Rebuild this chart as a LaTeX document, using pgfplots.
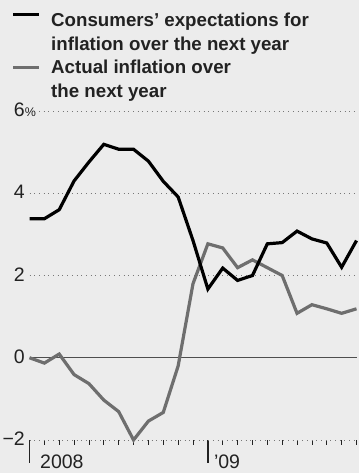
\documentclass[border=0pt]{standalone}
\usepackage{pgfplots}
\pgfplotsset{compat=1.18}
\usepackage{fontspec}
\setmainfont{Liberation Sans}
\definecolor{bg}{HTML}{ECECEC}
\definecolor{grayline}{HTML}{6E6E6E}
\definecolor{gridc}{HTML}{777777}
\definecolor{txt}{HTML}{222222}
\pgfplotstableread{
x exp act
0 3.38 0.00
1 3.38 -0.13
2 3.60 0.09
3 4.30 -0.41
4 4.76 -0.63
5 5.19 -1.03
6 5.07 -1.31
7 5.07 -2.00
8 4.78 -1.54
9 4.29 -1.33
10 3.91 -0.20
11 2.85 1.80
12 1.67 2.77
13 2.18 2.67
14 1.88 2.19
15 2.00 2.38
16 2.77 2.19
17 2.80 2.00
18 3.08 1.08
19 2.89 1.29
20 2.79 1.19
21 2.20 1.08
22 2.85 1.19
}\datatable
\begin{document}
\begin{tikzpicture}[x=1bp,y=1bp]
\fill[bg] (0,0) rectangle (359,473);
\useasboundingbox (0,0) rectangle (359,473);
\begin{axis}[
  at={(29.5bp,33bp)}, anchor=south west,
  scale only axis, width=327bp, height=329bp,
  xmin=0, xmax=22, ymin=-2, ymax=6,
  axis line style={draw=none}, clip=false,
  xtick={0,12}, xticklabels={},
  minor xtick={1,...,11,13,14,...,22},
  tick align=outside, xtick pos=bottom, ytick pos=left,
  major tick length=23bp, minor tick length=5bp,
  xtick style={line width=1.3bp, color=txt},
  minor x tick style={line width=0.7bp, color=txt},
  ytick={-2,0,2,4,6},
  yticklabels={−2,0,2,4,6\rlap{\fontsize{12.5bp}{12bp}\selectfont\%}},
  ytick style={draw=none},
  /pgf/number format/assume math mode=true,
  yticklabel style={anchor=east, inner sep=0pt, xshift=18.5bp, yshift=1bp, text=txt, font=\fontsize{19.5bp}{20bp}\selectfont},
]
\draw[gridc, line width=0.9bp, dash pattern=on 0.9bp off 3.8bp] (axis cs:0,-2) -- (axis cs:22,-2);
\draw[gridc, line width=0.9bp, dash pattern=on 0.9bp off 3.8bp] (axis cs:0,2) -- (axis cs:22,2);
\draw[gridc, line width=0.9bp, dash pattern=on 0.9bp off 3.8bp] (axis cs:0,4) -- (axis cs:22,4);
\draw[gridc, line width=0.9bp, dash pattern=on 0.9bp off 3.8bp] (axis cs:0.64,6) -- (axis cs:22,6);
\draw[txt!80, line width=0.9bp] (axis cs:0,0) -- (axis cs:22,0);
\addplot[grayline, line width=3.2bp, line join=miter, mark=none] table[x=x, y=act] {\datatable};
\addplot[black, line width=3.2bp, line join=miter, mark=none] table[x=x, y=exp] {\datatable};
\node[anchor=base west, inner sep=0pt, text=txt, font=\fontsize{19.5bp}{20bp}\selectfont] at ([xshift=10.5bp, yshift=-29bp]axis cs:0,-2) {2008};
\node[anchor=base west, inner sep=0pt, text=txt, font=\fontsize{19.5bp}{20bp}\selectfont] at ([xshift=6bp, yshift=-29bp]axis cs:12,-2) {’09};
\end{axis}
\draw[black, line width=3bp] (13,458) -- (39,458);
\draw[grayline, line width=3bp] (13,405) -- (39,405);
\begin{scope}[every node/.style={anchor=base west, inner sep=0pt, text=txt, font=\fontsize{18.7bp}{24bp}\selectfont\bfseries}]
\node at (51,446.3) {Consumers’ expectations for};
\node at (51,422) {inflation over the next year};
\node at (51,399) {Actual inflation over};
\node at (51,375.3) {the next year};
\end{scope}
\end{tikzpicture}
\end{document}
